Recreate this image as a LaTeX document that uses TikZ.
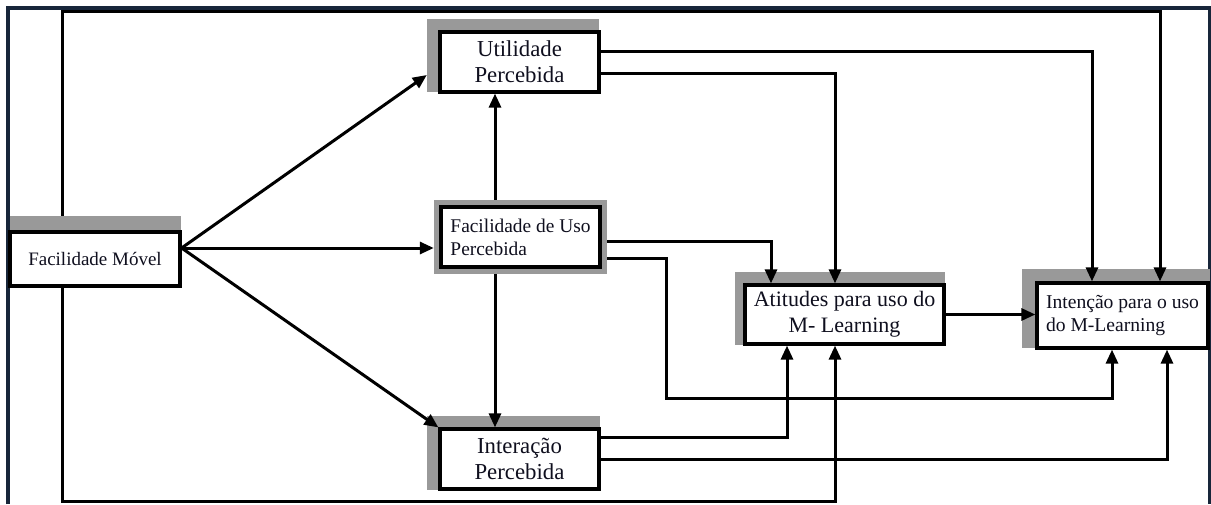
\documentclass[tikz,border=0pt]{standalone}
\usepackage{fontspec}
\setmainfont{Liberation Serif}
\usetikzlibrary{arrows.meta}
\definecolor{shadegray}{RGB}{153,153,153}
\definecolor{framenavy}{RGB}{24,38,58}
\definecolor{txt}{RGB}{15,15,30}
\tikzset{
  shadebox/.style={fill=shadegray, draw=none, inner sep=0pt},
  box/.style={draw=black, line width=3.2pt, fill=white, inner sep=0pt, text=txt},
  arr/.style={line width=3pt, -{Triangle[length=14pt,width=12pt]}},
}
\begin{document}
\begin{tikzpicture}[x=1pt,y=-1pt]
\useasboundingbox (0,0) rectangle (1211,504);
\draw[framenavy, line width=3.2pt] (8,504) -- (8,8) -- (1209.5,8) -- (1209.5,504);

% shadows and boxes
\node[shadebox, minimum width=171pt, minimum height=70pt] (fms) at (95.5,251) {};
\node[box, minimum width=170pt, minimum height=54pt, font=\fontsize{19}{22}\selectfont] (fm) at (95,259) {Facilidade Móvel};

\node[shadebox, minimum width=172pt, minimum height=73pt] (ups) at (513,55.5) {};
\node[box, minimum width=159pt, minimum height=60pt, align=center, font=\fontsize{22.8}{26}\selectfont] (up) at (519.5,62) {Utilidade\\Percebida};

\node[shadebox, minimum width=173pt, minimum height=74pt] (fus) at (520.5,237) {};
\node[box, line width=4.2pt, minimum width=159pt, minimum height=60pt, align=left, font=\fontsize{19.4}{23}\selectfont] (fu) at (520.5,237) {Facilidade de Uso\\Percebida};

\node[shadebox, minimum width=173pt, minimum height=74pt] (ips) at (513.5,453) {};
\node[box, minimum width=159pt, minimum height=60pt, align=center, font=\fontsize{22.8}{26}\selectfont] (ip) at (519.5,459) {Interação\\Percebida};

\node[shadebox, minimum width=210pt, minimum height=73pt] (ats) at (840,308.5) {};
\node[box, minimum width=199pt, minimum height=59pt, align=center, font=\fontsize{22}{26}\selectfont] (at) at (844.5,314.5) {Atitudes para uso do\\M- Learning};

\node[shadebox, minimum width=188pt, minimum height=79pt] (ins) at (1116,308.5) {};
\node[box, minimum width=171pt, minimum height=65pt, align=left, font=\fontsize{19.6}{23}\selectfont] (in) at (1122.5,315.5) {Intenção para o uso\\do M-Learning};

% connectors
\draw[arr] ([yshift=11pt]fm.east) -- ([yshift=-19.5pt]ups.west);
\draw[arr] ([yshift=11pt]fm.east) -- ([yshift=-11pt]fus.west);
\draw[arr] ([yshift=11pt]fm.east) -- (ip.north west);
\draw[arr] ([xshift=-25.5pt]fus.north) -- ([xshift=-24.5pt]up.south);
\draw[arr] ([xshift=-25.5pt]fus.south) -- ([xshift=-24.5pt]ip.north);
\draw[arr] ([yshift=11pt]up.east) -| ([xshift=-30.5pt]in.north);
\draw[arr] ([yshift=-11pt]up.east) -| ([xshift=-9.5pt]at.north);
\draw[arr] ([yshift=-4pt]fus.east) -| ([xshift=-73.5pt]at.north);
\coordinate (fuc) at (666,398);
\draw[arr] ([yshift=-21pt]fus.east) -| (fuc) -| ([xshift=-10.5pt]in.south);
\draw[arr] ([yshift=22pt]ip.east) -| ([xshift=-57.5pt]at.south);
\draw[arr] (ip.east) -| ([xshift=44.5pt]in.south);
\draw[arr] (at.east) -- (at.east -| in.west);
\coordinate (ctop) at (1160,11.5);
\draw[arr] ([xshift=-33.5pt]fms.north) |- (ctop) -- ([xshift=37.5pt]in.north);
\coordinate (cbot) at (835,501.5);
\draw[arr] ([xshift=-33pt]fm.south) |- (cbot) -- ([xshift=-9.5pt]at.south);
\end{tikzpicture}
\end{document}
